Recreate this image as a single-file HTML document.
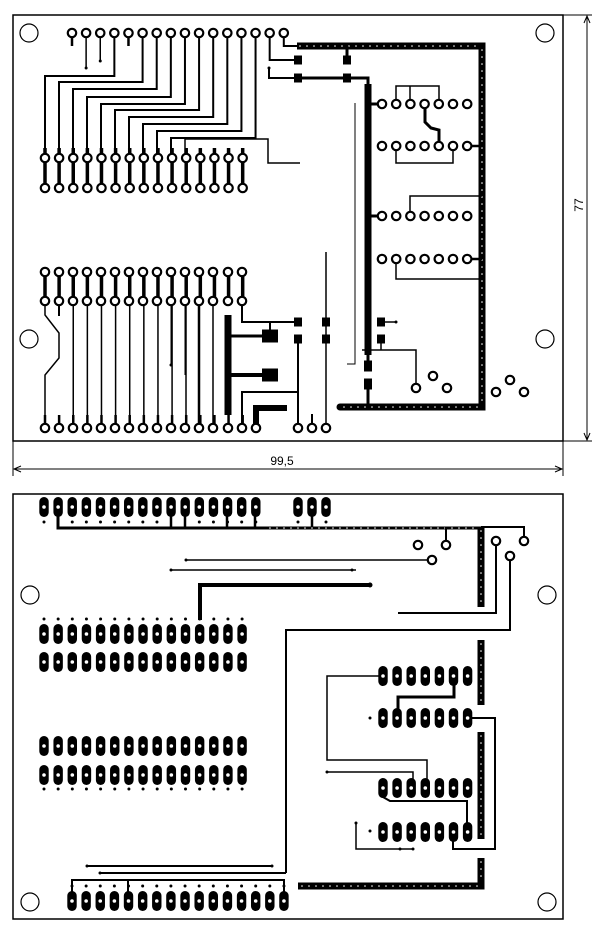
<!DOCTYPE html>
<html><head><meta charset="utf-8"><style>
html,body{margin:0;padding:0;background:#fff;width:600px;height:928px;overflow:hidden}
svg{display:block}
</style></head><body>
<svg id="s" width="600" height="928" viewBox="0 0 600 928" xmlns="http://www.w3.org/2000/svg">
<g fill="none" stroke="#000">
<rect x="13" y="15" width="550" height="426" stroke-width="1.5"/>
<rect x="13" y="494" width="550" height="425" stroke-width="1.5"/>
<line x1="563" y1="15" x2="592" y2="15" stroke-width="1"/>
<line x1="563" y1="441" x2="592" y2="441" stroke-width="1"/>
<line x1="587" y1="16" x2="587" y2="440" stroke-width="1"/>
<polyline points="584,23 587,16 590,23" stroke-width="1"/>
<polyline points="584,433 587,440 590,433" stroke-width="1"/>
<line x1="13" y1="441" x2="13" y2="476" stroke-width="1"/>
<line x1="563" y1="441" x2="563" y2="476" stroke-width="1"/>
<line x1="14" y1="469" x2="562" y2="469" stroke-width="1"/>
<polyline points="21,466 14,469 21,472" stroke-width="1"/>
<polyline points="555,466 562,469 555,472" stroke-width="1"/>
</g>
<text x="282" y="465" font-family="Liberation Sans, sans-serif" font-size="12" text-anchor="middle">99,5</text>
<text x="583" y="205" font-family="Liberation Sans, sans-serif" font-size="12" text-anchor="middle" transform="rotate(-90 583 205)">77</text>
<g id="g"></g>
</svg>
<script>
var g=document.getElementById('g'),NS='http://www.w3.org/2000/svg';
function el(t,a){var e=document.createElementNS(NS,t);for(var k in a)e.setAttribute(k,a[k]);g.appendChild(e);return e;}
function L(pts,w){el('polyline',{points:pts,fill:'none',stroke:'#000','stroke-width':w||1.5,'stroke-linejoin':'miter'});}
function ring(x,y){el('circle',{cx:x,cy:y,r:4.2,fill:'#fff',stroke:'#000','stroke-width':2.2});}
function hole(x,y,r){el('circle',{cx:x,cy:y,r:r||9,fill:'#fff',stroke:'#000','stroke-width':1.2});}
function pad(x,y){el('rect',{x:x-4.7,y:y-10,width:9.4,height:20,rx:4.7,fill:'#000'});el('circle',{cx:x,cy:y,r:1.8,fill:'#fff'});}
function sq(x,y,w,h){el('rect',{x:x-w/2,y:y-h/2,width:w,height:h,fill:'#000'});}
function dot(x,y){el('circle',{cx:x,cy:y,r:1.5,fill:'#000'});}
function bus(pts,w){L(pts,w||7);}
function wd(x1,y1,x2,y2){var n=Math.max(Math.abs(x2-x1),Math.abs(y2-y1))/7;for(var i=0;i<=n;i++)el('circle',{cx:x1+(x2-x1)*i/n,cy:y1+(y2-y1)*i/n,r:0.8,fill:'#fff'});}
var S=14.12;
// ===== TOP BOARD =====
hole(29,33);hole(545,33);hole(29,339);hole(545,339);
// buses
bus('297,46 482,46 482,407 340,407',7);
el('circle',{cx:340,cy:407,r:3.5,fill:'#000'});
wd(300,46,480,46);wd(482,50,482,404);wd(344,407,480,407);
bus('368,84 368,355',7);
// top pins
var tx=[];for(var i=0;i<16;i++)tx.push(72+i*S);
var tgt={3:[76,45],5:[82,59],6:[89,73],7:[97,87],8:[104,101],9:[110,115],10:[117,129],11:[124,143],12:[131,157],13:[138,171]};
for(var i=0;i<16;i++){var x=tx[i];
 if(tgt[i]){L(x+',33 '+x+','+tgt[i][0]+' '+tgt[i][1]+','+tgt[i][0]+' '+tgt[i][1]+',158',2);}
 else if(i==1){L(x+',33 '+x+',68',1.5);dot(x,68);}
 else if(i==2){L(x+',33 '+x+',61',1.5);dot(x,61);}
 else if(i==14){L(x+',33 '+x+',60 298,60',2);}
 else if(i==15){L(x+',33 '+x+',46 297,46',2);}
 else {L(x+',33 '+x+',46',2.5);}
}
L('269,68 269,78 298,78',2);dot(269,68);
// first bottom rows
var bx=[];for(var i=0;i<15;i++)bx.push(45+i*S);
for(var i=0;i<15;i++){L(bx[i]+',148 '+bx[i]+',190',3.5);}
L('185,158 185,139 268,139 268,163 300,163',1.5);
// pads top right
sq(298,60,8,9);sq(298,78,8,9);sq(347,60,8,9);sq(347,78,8,9);
L('347,46 347,60',3);L('298,78 368,78 368,86',3);
// IC rings top
var ix=[];for(var i=0;i<7;i++)ix.push(382+i*14.2);
L('368,104 382,104',3);L('368,216 382,216',3);
L('396,104 396,86 439,86 439,104',1.5);L('410,86 410,104',1.5);
L('425,104 425,122 431,128 439,130 439,146',3);
L('396,146 396,163 453,163 453,146',1.5);
L('467,146 482,146',2.5);
L('410,216 410,196 482,196',1.5);
L('396,259 396,279 482,279',1.5);
L('467,259 482,259',2.5);
[104,146,216,259].forEach(function(y){ix.forEach(function(x){ring(x,y);});});
// lower rows
for(var i=0;i<15;i++){L(bx[i]+',272 '+bx[i]+',301',3.5);}
L('45,301 45,315 59,333 59,358 45,375 45,428',1.5);
L('59,301 59,316',2);
for(var i=2;i<10;i++)L(bx[i]+',301 '+bx[i]+',428',1.5);
L('186,301 186,428',1.5);
L('171,301 171,365',1);dot(171,365);L('185,301 185,375',1);
L('199,301 199,428',2.5);L('213,301 213,428',1.5);
L('228,315 228,415',7);
L('228,336 265,336',3);sq(270,336,16,13);L('270,330 270,322',2);
L('228,375 265,375',4);sq(270,375,16,13);
L('242,301 242,322 298,322',2);
L('242,428 242,392 298,392',2);L('298,339 298,428',2);
L('256,428 256,408 287,408',6);
L('312,428 312,414',2);L('326,252 326,428',1.5);
sq(298,322,8,9);sq(298,339,8,9);sq(326,322,8,9);sq(326,339,8,9);
L('355,103 355,364 347,364',1);
sq(381,322,8,9);sq(381,339,8,9);L('381,322 396,322',1.5);dot(396,322);
L('381,339 381,350',1.5);L('362,350 416,350 416,388',1.5);
sq(368,366,8,11);sq(368,384,8,11);L('368,355 368,362',3);L('368,388 368,407',3);
for(var i=0;i<15;i++){L(bx[i]+',415 '+bx[i]+',428',2.5);}
[45,59,73,87,101,115,129,143,157,171,185,199,213,228,242].forEach(function(x){ring(x,272);ring(x,301);ring(x,428);});
ring(256,428);ring(298,428);ring(312,428);ring(326,428);
ring(416,388);ring(433,376);ring(447,388);ring(496,392);ring(510,380);ring(524,392);
for(var i=0;i<16;i++)ring(tx[i],33);
for(var i=0;i<15;i++){ring(bx[i],158);ring(bx[i],188);}
// ===== BOTTOM BOARD =====
hole(30,595);hole(547,595);hole(30,902);hole(547,902);
var px=[];for(var i=0;i<16;i++)px.push(44+i*S);
L('58,507 58,528 481,528',3);
[171,185,227,255,312].forEach(function(x){L(x+',507 '+x+',528',2.5);});
wd(270,528,478,528);
bus('481,527 481,607',7);wd(481,531,481,604);
L('481,527 524,527 524,541',2);L('446,527 446,545',2);
L('186,560 432,560',1.5);dot(186,560);
L('171,570 356,570',1.5);dot(171,570);dot(352,570);
L('200,620 200,585 370,585',4);el('circle',{cx:370,cy:585,r:2.5,fill:'#000'});
L('398,613 496,613 496,541',2);
L('200,630 200,630',1);
L('286,873 286,630 510,630 510,556',2);
L('100,873 286,873',2);dot(100,873);
L('87,866 272,866',2);dot(87,866);dot(272,866);
L('72,901 72,880 284,880 284,901',2);L('128,880 128,901',2);
bus('298,886 481,886 481,858',7);wd(302,886,478,886);wd(481,862,481,882);
bus('481,640 481,705',7);wd(481,644,481,702);
bus('481,732 481,839',7);wd(481,736,481,836);
// IC pads bottom
var qx=[];for(var i=0;i<7;i++)qx.push(383+i*14.1);
L('383,676 327,676 327,760 427,760 427,788',1.5);
L('327,772 413,772 413,788',1.5);dot(327,772);
L('454,676 454,697 398,697 398,718',3);
L('467,718 495,718 495,849 453,849 453,832',2);
L('383,788 383,797 390,801 467,801 467,832',2);
L('356,823 356,849 413,849',1.5);dot(356,823);dot(400,849);dot(413,849);
dot(370,718);dot(370,831);
[676,718,788,832].forEach(function(y){qx.forEach(function(x){pad(x,y);});});
for(var i=0;i<16;i++){pad(px[i],507);if([58,171,185,227,255].indexOf(Math.round(px[i]))<0)dot(px[i],522);}
[298,312,326].forEach(function(x){pad(x,507);});dot(298,522);dot(326,522);
ring(418,545);ring(446,545);ring(432,560);ring(496,541);ring(524,541);ring(510,556);
var rx=[];for(var i=0;i<15;i++)rx.push(44+i*14.15);
rx.forEach(function(x){pad(x,634);pad(x,662);pad(x,746);pad(x,775);dot(x,619);dot(x,789);});
for(var i=0;i<16;i++){var x=72+i*14.13;pad(x,901);dot(x,886);}
</script>
</body></html>
